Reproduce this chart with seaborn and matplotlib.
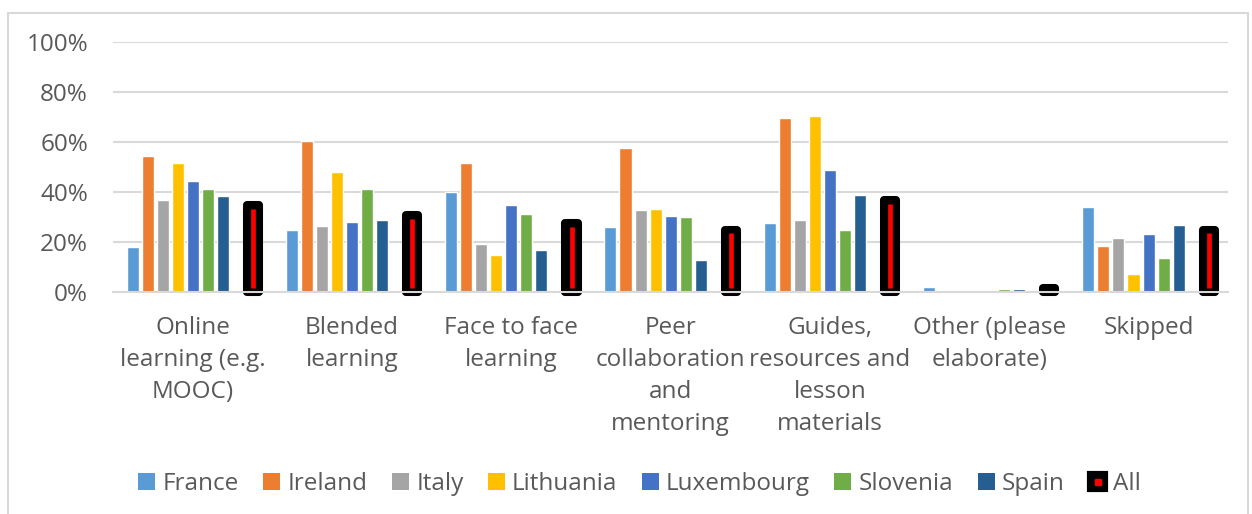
import pandas as pd
import seaborn as sns
import matplotlib.pyplot as plt
from matplotlib.patches import Patch, Rectangle
from matplotlib.lines import Line2D
from matplotlib.legend_handler import HandlerTuple
from matplotlib.ticker import PercentFormatter

categories = [
    "Online\nlearning (e.g.\nMOOC)",
    "Blended\nlearning",
    "Face to face\nlearning",
    "Peer\ncollaboration\nand\nmentoring",
    "Guides,\nresources and\nlesson\nmaterials",
    "Other (please\nelaborate)",
    "Skipped",
]

france = [0.18, 0.25, 0.40, 0.26, 0.275, 0.018, 0.34]
ireland = [0.545, 0.605, 0.515, 0.575, 0.695, 0.0, 0.183]
italy = [0.367, 0.265, 0.19, 0.33, 0.29, 0.0, 0.215]
lithuania = [0.517, 0.48, 0.148, 0.333, 0.703, 0.0, 0.073]
luxembourg = [0.443, 0.28, 0.348, 0.303, 0.488, 0.0, 0.231]
slovenia = [0.412, 0.412, 0.312, 0.30, 0.25, 0.01, 0.137]
spain = [0.383, 0.287, 0.167, 0.128, 0.39, 0.01, 0.268]
all_countries = [0.35, 0.31, 0.275, 0.25, 0.368, 0.015, 0.25]

series = ["France", "Ireland", "Italy", "Lithuania", "Luxembourg",
          "Slovenia", "Spain", "gap", "All"]
colors = ["#5B9BD5", "#ED7D31", "#A5A5A5", "#FFC000", "#4472C4",
          "#70AD47", "#255E91", "#FFFFFF", "#000000"]
values = [france, ireland, italy, lithuania, luxembourg, slovenia, spain,
          [0.0] * len(categories), all_countries]

rows = []
for name, vals in zip(series, values):
    for cat, v in zip(categories, vals):
        rows.append({"category": cat, "series": name, "value": v})
df = pd.DataFrame(rows)

sns.set_style("white")
plt.rcParams["font.family"] = ["Open Sans", "DejaVu Sans"]
text_color = "#595959"
grid_color = "#D9D9D9"

fig, ax = plt.subplots(figsize=(12.52, 5.14), dpi=100)
fig.subplots_adjust(left=0.0903, right=0.981, top=0.918, bottom=0.432)

sns.barplot(data=df, x="category", y="value", hue="series",
            hue_order=series, palette=dict(zip(series, colors)),
            order=categories, width=0.85, gap=0.2, legend=False, ax=ax,
            errorbar=None, saturation=1)

# "All" bars: thick black rounded outline with a red stripe inside
for patch in ax.patches:
    fc = patch.get_facecolor()
    if fc[:3] == (0.0, 0.0, 0.0) and patch.get_height() > 0:
        patch.set_edgecolor("black")
        patch.set_linewidth(5.8)
        patch.set_joinstyle("round")
        patch.set_clip_on(False)
        x = patch.get_x() + patch.get_width() / 2
        top = patch.get_height()
        if top > 0.04:
            ax.vlines(x, 0.016, top - 0.016, color="red", lw=3.4, zorder=5)

ax.set_xlim(-0.5, len(categories) - 0.5)
ax.set_ylim(0, 1)
ax.set_yticks([0, 0.2, 0.4, 0.6, 0.8, 1.0])
ax.yaxis.set_major_formatter(PercentFormatter(1.0, decimals=0))
ax.grid(axis="y", color=grid_color, lw=1.5)
ax.set_axisbelow(True)
for s in ["top", "right", "left"]:
    ax.spines[s].set_visible(False)
ax.spines["bottom"].set_color(grid_color)
ax.spines["bottom"].set_linewidth(1.5)
ax.tick_params(axis="both", length=0, labelsize=17.5, colors=text_color)
ax.tick_params(axis="y", pad=18)
ax.tick_params(axis="x", pad=17)
for lab in ax.get_xticklabels():
    lab.set_linespacing(1.45)
ax.set_xlabel("")
ax.set_ylabel("")

handles = [Patch(facecolor=c, edgecolor="none") for c in colors[:7]]
handles.append((Patch(facecolor="black", edgecolor="black", lw=3, joinstyle="round"),
                Line2D([], [], marker="s", color="red", ms=4, ls="")))
labels = series[:7] + ["All"]
fig.legend(handles, labels, loc="center", bbox_to_anchor=(0.511, 0.058),
           ncol=8, frameon=False, fontsize=17.5, labelcolor=text_color,
           handlelength=0.7, handleheight=0.7, handletextpad=0.3,
           columnspacing=1.0, handler_map={tuple: HandlerTuple(ndivide=1)})

# chart area border
fig.patches.append(Rectangle((8 / 1252, -0.1), 1240 / 1252, 1 - 13 / 514 + 0.1,
                             transform=fig.transFigure, fill=False,
                             edgecolor=grid_color, lw=1.5, clip_on=False))

fig.savefig("out.png", dpi=100)
